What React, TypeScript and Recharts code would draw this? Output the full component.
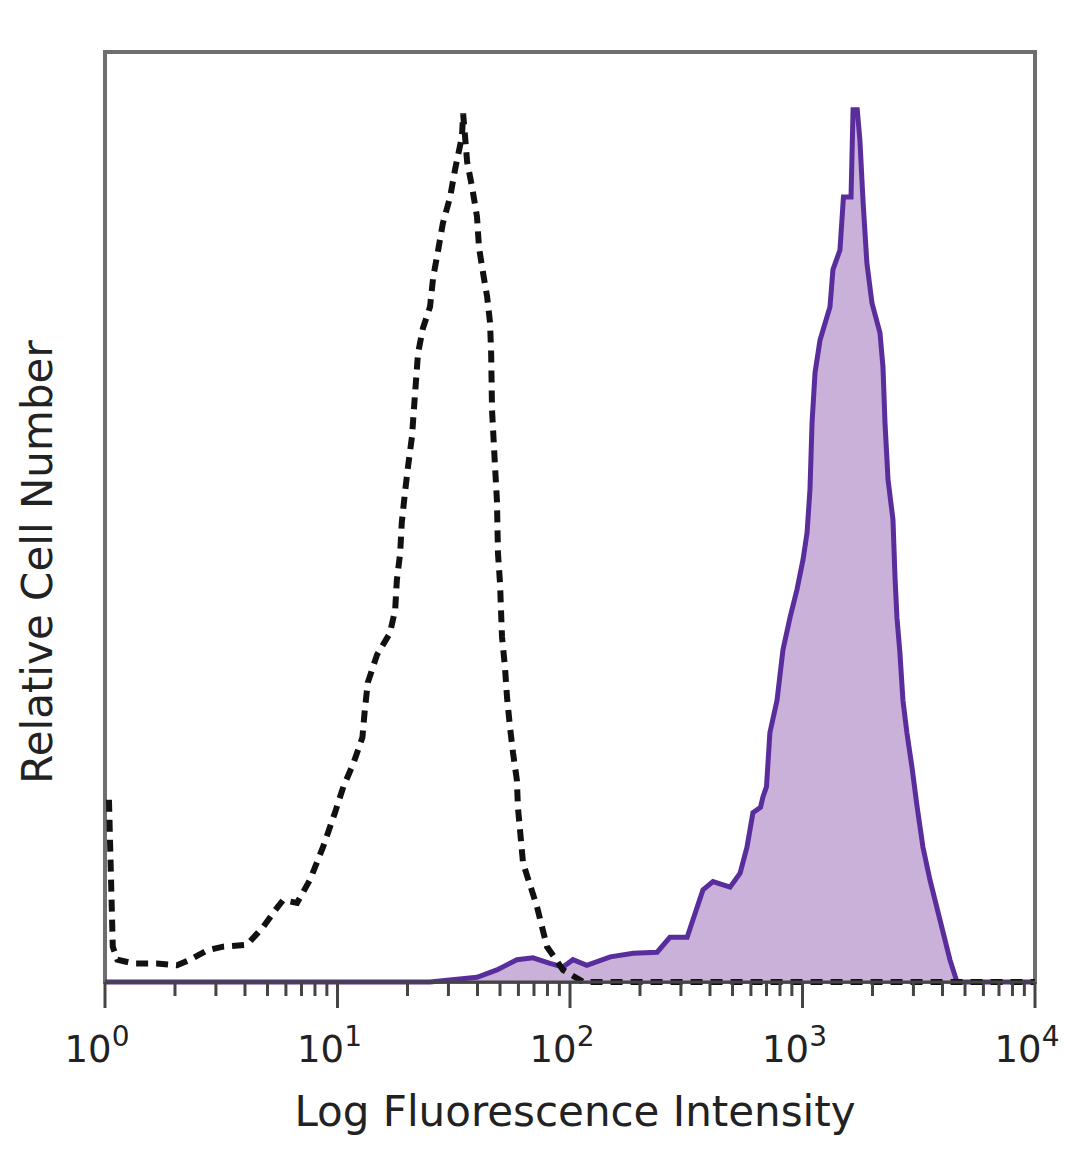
import React from 'react';
import { ComposedChart, Area, Line, XAxis, YAxis, ReferenceArea } from 'recharts';

// Isotype control (dashed) – fluorescence intensity vs relative count
const controlX = [1.04, 1.08, 1.13, 1.32, 1.67, 2.04, 2.32, 2.75, 3.22, 4.08, 4.78, 5.39, 5.83, 6.7, 7.62, 8.66, 9.75, 10.6, 11.7, 12.8, 13.1, 13.5, 14.8, 16.8, 17.7, 18.0, 18.6, 18.9, 19.5, 20.1, 20.9, 21.5, 22.2, 23.3, 25.0, 25.8, 27.1, 28.4, 30.5, 32.0, 34.3, 34.7, 36.1, 37.9, 39.8, 40.6, 42.3, 44.0, 45.3, 45.8, 46.2, 47.6, 48.5, 49.0, 50.0, 51.0, 52.5, 53.6, 55.2, 56.9, 59.1, 59.7, 62.8, 72.1, 79.6, 93.3, 114, 10000];
const controlY = [19.6, 3.8, 2.4, 2.0, 2.0, 1.8, 2.4, 3.4, 3.8, 4.0, 5.9, 7.7, 8.8, 8.5, 11.0, 14.5, 18.2, 21.0, 23.5, 26.3, 29.2, 32.2, 35.2, 37.5, 40.0, 43.2, 46.1, 49.4, 52.6, 55.4, 58.6, 62.9, 67.6, 70.3, 72.6, 75.8, 78.7, 81.6, 84.4, 87.3, 90.9, 93.4, 88.2, 85.5, 82.3, 79.0, 76.2, 73.7, 70.9, 67.6, 61.5, 55.4, 51.8, 46.1, 42.9, 37.1, 33.9, 30.6, 27.4, 24.6, 21.7, 18.8, 12.8, 8.1, 3.8, 1.3, 0, 0];

// Stained sample (filled purple)
const stainX = [1, 25, 39.8, 48.5, 59.1, 69.3, 82, 93.3, 103, 118, 149, 187, 237, 269, 319, 338, 373, 412, 488, 539, 577, 612, 660, 676, 700, 724, 777, 824, 884, 947, 1005, 1046, 1077, 1099, 1132, 1189, 1313, 1352, 1449, 1500, 1617, 1650, 1720, 1766, 1821, 1892, 1990, 2154, 2219, 2264, 2333, 2450, 2500, 2548, 2624, 2704, 2812, 2957, 3105, 3296, 3532, 3899, 4305, 4620, 10000];
const stainY = [0, 0, 0.5, 1.3, 2.4, 2.6, 2.0, 1.6, 2.4, 1.8, 2.7, 3.1, 3.2, 4.8, 4.8, 6.7, 9.9, 10.8, 10.2, 11.7, 14.5, 18.2, 18.8, 19.9, 21.0, 26.8, 30.3, 35.7, 39.2, 42.2, 45.4, 48.3, 53.0, 60.1, 65.5, 69.0, 72.6, 76.6, 78.7, 84.4, 84.4, 93.8, 93.8, 90.5, 84.0, 77.3, 73.0, 69.8, 66.1, 60.1, 54.0, 49.7, 43.5, 39.2, 35.4, 30.3, 26.8, 23.1, 19.0, 14.5, 11.0, 6.7, 2.4, 0, 0];

// Axis ticks (log decades with minor ticks)
const xTicks = [1, 2, 3, 4, 5, 6, 7, 8, 9, 10, 20, 30, 40, 50, 60, 70, 80, 90, 100, 200, 300, 400, 500, 600, 700, 800, 900, 1000, 2000, 3000, 4000, 5000, 6000, 7000, 8000, 9000, 10000];
const majorTicks = [1, 10, 100, 1000, 10000];
const majorExponents = ['0', '1', '2', '3', '4'];

const controlData = controlX.map((x, i) => ({ x, y: controlY[i] }));
const stainData = stainX.map((x, i) => ({ x, y: stainY[i] }));

const FONT = '"DejaVu Sans", Verdana, sans-serif';

function XTick(props: any) {
  const { x, y, payload } = props;
  const idx = majorTicks.indexOf(payload.value);
  const major = idx >= 0;
  return (
    <g>
      <line x1={x} x2={x} y1={y} y2={y + (major ? 26 : 14)} stroke="#444" strokeWidth={3} />
      {major && (
        <text x={x - 8} y={y + 80} textAnchor="middle" fontSize={37} fontFamily={FONT} fill="#222">
          10
          <tspan dy={-16} fontSize={28}>{majorExponents[idx]}</tspan>
        </text>
      )}
    </g>
  );
}

export default function App() {
  return (
    <div style={{ position: 'absolute', left: 0, top: 0, background: '#fff' }}>
      <ComposedChart
        width={1080}
        height={1169}
        margin={{ top: 52, right: 45, left: 105, bottom: 127 }}
      >
        <XAxis
          dataKey="x"
          type="number"
          scale="log"
          domain={[1, 10000]}
          allowDataOverflow
          ticks={xTicks}
          interval={0}
          tickLine={false}
          tickSize={0}
          tickMargin={0}
          tick={<XTick />}
          height={60}
          axisLine={{ stroke: '#444', strokeWidth: 3 }}
        />
        <YAxis type="number" domain={[0, 100]} hide width={0} />
        <ReferenceArea x1={1} x2={10000} y1={0} y2={100} fill="none" stroke="#6e6e6e" strokeWidth={4} ifOverflow="visible" />
        <Area
          data={stainData}
          dataKey="y"
          type="linear"
          stroke="#5a2d9c"
          strokeWidth={5}
          fill="#c9b1da"
          fillOpacity={1}
          isAnimationActive={false}
          dot={false}
          activeDot={false}
        />
        <Line
          data={controlData}
          dataKey="y"
          type="linear"
          stroke="#111"
          strokeWidth={6}
          strokeDasharray="12 8"
          dot={false}
          activeDot={false}
          isAnimationActive={false}
        />
        <text x={575} y={1126} textAnchor="middle" fontSize={42} fontFamily={FONT} fill="#222">
          Log Fluorescence Intensity
        </text>
        <text transform="translate(52,562) rotate(-90)" textAnchor="middle" fontSize={42} fontFamily={FONT} fill="#222">
          Relative Cell Number
        </text>
      </ComposedChart>
    </div>
  );
}
